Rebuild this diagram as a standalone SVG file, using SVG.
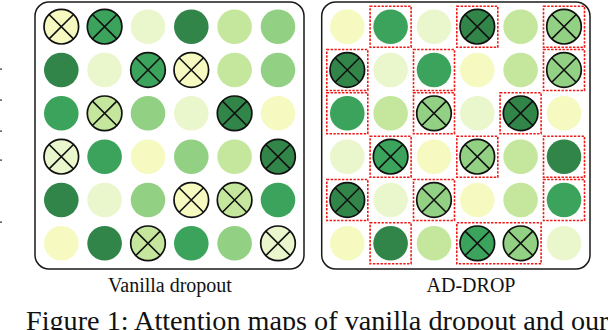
<svg xmlns="http://www.w3.org/2000/svg" xmlns:xlink="http://www.w3.org/1999/xlink" width="608" height="330" viewBox="0 0 608 330">
<style>
.Y{fill:#f6fac0}.VL{fill:#eaf6cb}.LG{fill:#c5e79d}.M{fill:#92d184}.G{fill:#3ba35b}.D{fill:#328548}
.panel{fill:#fff;stroke:#1a1a1a;stroke-width:1.5}
.rb{fill:none;stroke:#f01818;stroke-width:1.6;stroke-dasharray:2.4 1.4}
.lbl{font-family:"Liberation Serif","Times New Roman",serif;font-size:20px;fill:#111;text-anchor:middle}
.cap{font-family:"Liberation Serif","Times New Roman",serif;font-size:28.2px;fill:#111}
</style>
<defs>
<g id="xm"><circle r="17.3" fill="none" stroke="#111" stroke-width="1.7"/><path d="M-12.2,-12.2L12.2,12.2M-12.2,12.2L12.2,-12.2" stroke="#111" stroke-width="1.6" fill="none"/></g>
</defs>
<rect width="608" height="330" fill="#fff"/>
<g id="edge-marks" fill="#333"><rect x="0" y="68.5" width="2" height="1.2"/><rect x="0" y="99.5" width="2" height="1.2"/><rect x="0" y="130.5" width="2" height="1.2"/><rect x="0" y="159.5" width="2" height="1.2"/><rect x="0" y="221.5" width="2" height="1.2"/></g>
<g id="left-panel">
<rect class="panel" x="35" y="2" width="269" height="267" rx="14"/>
<g id="L11" transform="translate(61.3,26.7)"><circle class="Y" r="17.3"/><use href="#xm"/></g>
<g id="L12" transform="translate(104.6,26.7)"><circle class="G" r="17.3"/><use href="#xm"/></g>
<g id="L13" transform="translate(148,26.7)"><circle class="VL" r="17.3"/></g>
<g id="L14" transform="translate(191.3,26.7)"><circle class="D" r="17.3"/></g>
<g id="L15" transform="translate(234.6,26.7)"><circle class="LG" r="17.3"/></g>
<g id="L16" transform="translate(278,26.7)"><circle class="M" r="17.3"/></g>
<g id="L21" transform="translate(61.3,70)"><circle class="D" r="17.3"/></g>
<g id="L22" transform="translate(104.6,70)"><circle class="VL" r="17.3"/></g>
<g id="L23" transform="translate(148,70)"><circle class="G" r="17.3"/><use href="#xm"/></g>
<g id="L24" transform="translate(191.3,70)"><circle class="Y" r="17.3"/><use href="#xm"/></g>
<g id="L25" transform="translate(234.6,70)"><circle class="LG" r="17.3"/></g>
<g id="L26" transform="translate(278,70)"><circle class="M" r="17.3"/></g>
<g id="L31" transform="translate(61.3,113.3)"><circle class="G" r="17.3"/></g>
<g id="L32" transform="translate(104.6,113.3)"><circle class="LG" r="17.3"/><use href="#xm"/></g>
<g id="L33" transform="translate(148,113.3)"><circle class="M" r="17.3"/></g>
<g id="L34" transform="translate(191.3,113.3)"><circle class="VL" r="17.3"/></g>
<g id="L35" transform="translate(234.6,113.3)"><circle class="D" r="17.3"/><use href="#xm"/></g>
<g id="L36" transform="translate(278,113.3)"><circle class="Y" r="17.3"/></g>
<g id="L41" transform="translate(61.3,156.7)"><circle class="VL" r="17.3"/><use href="#xm"/></g>
<g id="L42" transform="translate(104.6,156.7)"><circle class="G" r="17.3"/></g>
<g id="L43" transform="translate(148,156.7)"><circle class="Y" r="17.3"/></g>
<g id="L44" transform="translate(191.3,156.7)"><circle class="M" r="17.3"/></g>
<g id="L45" transform="translate(234.6,156.7)"><circle class="LG" r="17.3"/></g>
<g id="L46" transform="translate(278,156.7)"><circle class="D" r="17.3"/><use href="#xm"/></g>
<g id="L51" transform="translate(61.3,200)"><circle class="D" r="17.3"/></g>
<g id="L52" transform="translate(104.6,200)"><circle class="VL" r="17.3"/></g>
<g id="L53" transform="translate(148,200)"><circle class="M" r="17.3"/></g>
<g id="L54" transform="translate(191.3,200)"><circle class="Y" r="17.3"/><use href="#xm"/></g>
<g id="L55" transform="translate(234.6,200)"><circle class="LG" r="17.3"/><use href="#xm"/></g>
<g id="L56" transform="translate(278,200)"><circle class="G" r="17.3"/></g>
<g id="L61" transform="translate(61.3,243.3)"><circle class="Y" r="17.3"/></g>
<g id="L62" transform="translate(104.6,243.3)"><circle class="D" r="17.3"/></g>
<g id="L63" transform="translate(148,243.3)"><circle class="LG" r="17.3"/><use href="#xm"/></g>
<g id="L64" transform="translate(191.3,243.3)"><circle class="G" r="17.3"/></g>
<g id="L65" transform="translate(234.6,243.3)"><circle class="M" r="17.3"/></g>
<g id="L66" transform="translate(278,243.3)"><circle class="VL" r="17.3"/><use href="#xm"/></g>
</g>
<g id="right-panel">
<rect class="panel" x="321.7" y="2" width="268.3" height="267" rx="14"/>
<g id="R11" transform="translate(347.3,26.7)"><circle class="Y" r="17.3"/></g>
<g id="R12" transform="translate(390.6,26.7)"><circle class="G" r="17.3"/></g>
<g id="R13" transform="translate(434,26.7)"><circle class="VL" r="17.3"/></g>
<g id="R14" transform="translate(477.3,26.7)"><circle class="D" r="17.3"/><use href="#xm"/></g>
<g id="R15" transform="translate(520.6,26.7)"><circle class="LG" r="17.3"/></g>
<g id="R16" transform="translate(564,26.7)"><circle class="M" r="17.3"/><use href="#xm"/></g>
<g id="R21" transform="translate(347.3,70)"><circle class="D" r="17.3"/><use href="#xm"/></g>
<g id="R22" transform="translate(390.6,70)"><circle class="VL" r="17.3"/></g>
<g id="R23" transform="translate(434,70)"><circle class="G" r="17.3"/></g>
<g id="R24" transform="translate(477.3,70)"><circle class="Y" r="17.3"/></g>
<g id="R25" transform="translate(520.6,70)"><circle class="LG" r="17.3"/></g>
<g id="R26" transform="translate(564,70)"><circle class="M" r="17.3"/><use href="#xm"/></g>
<g id="R31" transform="translate(347.3,113.3)"><circle class="G" r="17.3"/></g>
<g id="R32" transform="translate(390.6,113.3)"><circle class="LG" r="17.3"/></g>
<g id="R33" transform="translate(434,113.3)"><circle class="M" r="17.3"/><use href="#xm"/></g>
<g id="R34" transform="translate(477.3,113.3)"><circle class="VL" r="17.3"/></g>
<g id="R35" transform="translate(520.6,113.3)"><circle class="D" r="17.3"/><use href="#xm"/></g>
<g id="R36" transform="translate(564,113.3)"><circle class="Y" r="17.3"/></g>
<g id="R41" transform="translate(347.3,156.7)"><circle class="VL" r="17.3"/></g>
<g id="R42" transform="translate(390.6,156.7)"><circle class="G" r="17.3"/><use href="#xm"/></g>
<g id="R43" transform="translate(434,156.7)"><circle class="Y" r="17.3"/></g>
<g id="R44" transform="translate(477.3,156.7)"><circle class="M" r="17.3"/><use href="#xm"/></g>
<g id="R45" transform="translate(520.6,156.7)"><circle class="LG" r="17.3"/></g>
<g id="R46" transform="translate(564,156.7)"><circle class="D" r="17.3"/></g>
<g id="R51" transform="translate(347.3,200)"><circle class="D" r="17.3"/><use href="#xm"/></g>
<g id="R52" transform="translate(390.6,200)"><circle class="VL" r="17.3"/></g>
<g id="R53" transform="translate(434,200)"><circle class="M" r="17.3"/><use href="#xm"/></g>
<g id="R54" transform="translate(477.3,200)"><circle class="Y" r="17.3"/></g>
<g id="R55" transform="translate(520.6,200)"><circle class="LG" r="17.3"/></g>
<g id="R56" transform="translate(564,200)"><circle class="G" r="17.3"/></g>
<g id="R61" transform="translate(347.3,243.3)"><circle class="Y" r="17.3"/></g>
<g id="R62" transform="translate(390.6,243.3)"><circle class="D" r="17.3"/></g>
<g id="R63" transform="translate(434,243.3)"><circle class="LG" r="17.3"/></g>
<g id="R64" transform="translate(477.3,243.3)"><circle class="G" r="17.3"/><use href="#xm"/></g>
<g id="R65" transform="translate(520.6,243.3)"><circle class="M" r="17.3"/><use href="#xm"/></g>
<g id="R66" transform="translate(564,243.3)"><circle class="VL" r="17.3"/></g>
</g>
<g id="red-boxes">
<rect class="rb" x="370.1" y="6.2" width="41" height="41"/>
<rect class="rb" x="456.8" y="6.2" width="41" height="41"/>
<rect class="rb" x="543.5" y="6.2" width="41" height="41"/>
<rect class="rb" x="326.8" y="49.5" width="41" height="41"/>
<rect class="rb" x="413.5" y="49.5" width="41" height="41"/>
<rect class="rb" x="543.5" y="49.5" width="41" height="41"/>
<rect class="rb" x="326.8" y="92.8" width="41" height="41"/>
<rect class="rb" x="413.5" y="92.8" width="41" height="41"/>
<rect class="rb" x="500.1" y="92.8" width="41" height="41"/>
<rect class="rb" x="370.1" y="136.2" width="41" height="41"/>
<rect class="rb" x="456.8" y="136.2" width="41" height="41"/>
<rect class="rb" x="543.5" y="136.2" width="41" height="41"/>
<rect class="rb" x="326.8" y="179.5" width="41" height="41"/>
<rect class="rb" x="413.5" y="179.5" width="41" height="41"/>
<rect class="rb" x="543.5" y="179.5" width="41" height="41"/>
<rect class="rb" x="370.1" y="222.8" width="41" height="41"/>
<rect class="rb" x="456.8" y="222.8" width="84.3" height="41"/>
</g>
<g id="labels">
<text class="lbl" x="170" y="292">Vanilla dropout</text>
<text class="lbl" x="471" y="292">AD-DROP</text>
<text class="cap" x="26" y="330">Figure 1: Attention maps of vanilla dropout and our</text>
</g>
</svg>
